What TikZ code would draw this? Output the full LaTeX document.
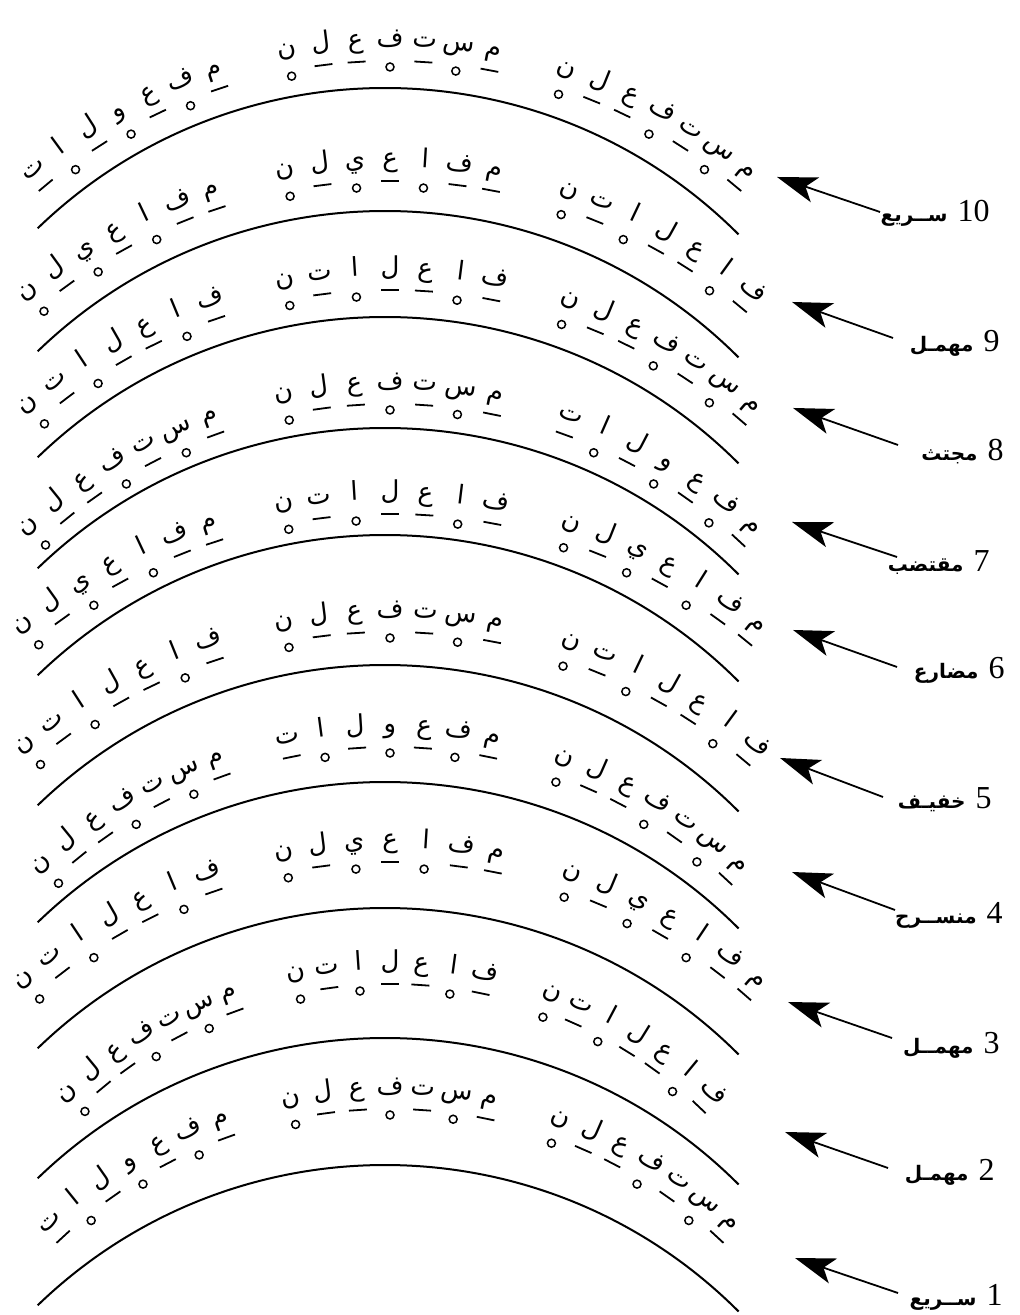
\documentclass[tikz,border=0pt]{standalone}
\usepackage{fontspec}
\usetikzlibrary{arrows.meta}
\newfontfamily\arabicfont[Script=Arabic]{DejaVu Sans}
\newfontfamily\numfont{Liberation Serif}
\TeXXeTstate=1

% feet as letter/mark (0 = haraka, 1 = sukun)
\def\MS{م/0,س/1,ت/0,ف/1,ع/0,ل/0,ن/1}
\def\MF{م/0,ف/1,ع/0,و/1,ل/0,ا/1,ت/0}
\def\FA{ف/0,ا/1,ع/0,ل/0,ا/1,ت/0,ن/1}
\def\MA{م/0,ف/0,ا/1,ع/0,ي/1,ل/0,ن/1}

\begin{document}
\begin{tikzpicture}[x=0.5pt, y=0.5pt]
    \tikzset{
        qaus/.style={line width=1pt},
        harf/.style={
            font=\arabicfont\fontsize{13}{13}\selectfont,
            inner sep=0pt, text height=6pt, text depth=1.5pt
        },
        haraka/.style={line width=0.9pt},
        sukun/.style={line width=0.75pt},
        sahm/.style={line width=0.9pt, -{Stealth[length=20pt, width=13pt, inset=5pt]}},
        ism/.style={anchor=east, inner sep=0pt},
    }
    \useasboundingbox (0,0) rectangle (1020,1315);

    % ==== Arcs ====
    \foreach \p [count=\i] in {88,211,317,428,535,665,782,908,1038,1165}
        \draw[qaus] ([shift={(385,815-\p)}]134:500) coordinate (q\i)
            arc[start angle=134, end angle=45, radius=500];

    % ==== Bands of letters ====
    \foreach \yt/\r/\th/\fa/\fb/\fc [count=\b] in {
        42/558/39.7/\MS/\MS/\MF,
        162/569/39.5/\FA/\MA/\MA,
        271/556/40.6/\MS/\FA/\FA,
        385/532/42.8/\MF/\MS/\MS,
        495/582/39.1/\MA/\FA/\MA,
        613/571/39.8/\FA/\MS/\FA,
        728/512/42.9/\MS/\MF/\MS,
        843/559/41.0/\MA/\MA/\FA,
        965/469/43.4/\FA/\FA/\MS,
        1090/501/42.7/\MS/\MS/\MF}
    {
        \edef\feet{\fa,\fb,\fc}
        \pgfmathsetmacro\yc{1315-\yt-\r}
        \pgfmathsetmacro\rd{\r-19}
        \pgfmathsetmacro\rc{\r-25}
        \foreach \h/\s [count=\k from 0] in \feet {
            \pgfmathsetmacro\ang{90-\th+2*\th*(\k+1.2*floor(\k/7))/22.4}
            \node[harf, rotate=\ang-90] (h\b-\k) at ([shift={(390,\yc)}]\ang:\r) {\h};
            \ifnum\s=0
                \draw[haraka] ([shift={(390,\yc)}]\ang:\rd) ++(\ang+90:9) -- ++(\ang-90:18);
            \else
                \draw[sukun] ([shift={(390,\yc)}]\ang:\rc) circle[radius=4];
            \fi
        }
    }

    % ==== Names and arrows ====
    \foreach \n/\tx/\ty/\sx/\sy/\lx/\ly/\wazn in {
        10/777/177/880/212/990/213/{ســريع},
        9/792/302/893/338/1000/343/{مهمـل},
        8/793/408/898/445/1004/452/{مجتث},
        7/792/522/897/557/990/563/{مقتضب},
        6/793/630/897/667/1005/670/{مضارع},
        5/780/758/883/797/992/800/{خفيـف},
        4/792/872/895/910/1003/915/{منســرح},
        3/788/1002/892/1038/1000/1045/{مهمــل},
        2/785/1132/888/1168/995/1172/{مهمـل},
        1/795/1258/898/1293/1003/1297/{ســريع}}
    {
        \coordinate (p\n) at (\tx,1315-\ty);
        \coordinate (s\n) at (\sx,1315-\sy);
        \node[ism] (l\n) at (\lx,1315-\ly)
            {{\arabicfont\bfseries\fontsize{10}{10}\selectfont\beginR\wazn\endR}\hspace{5pt}{\numfont\fontsize{16}{16}\selectfont\n}};
        \draw[sahm] (s\n) -- (p\n);
    }
\end{tikzpicture}
\end{document}
